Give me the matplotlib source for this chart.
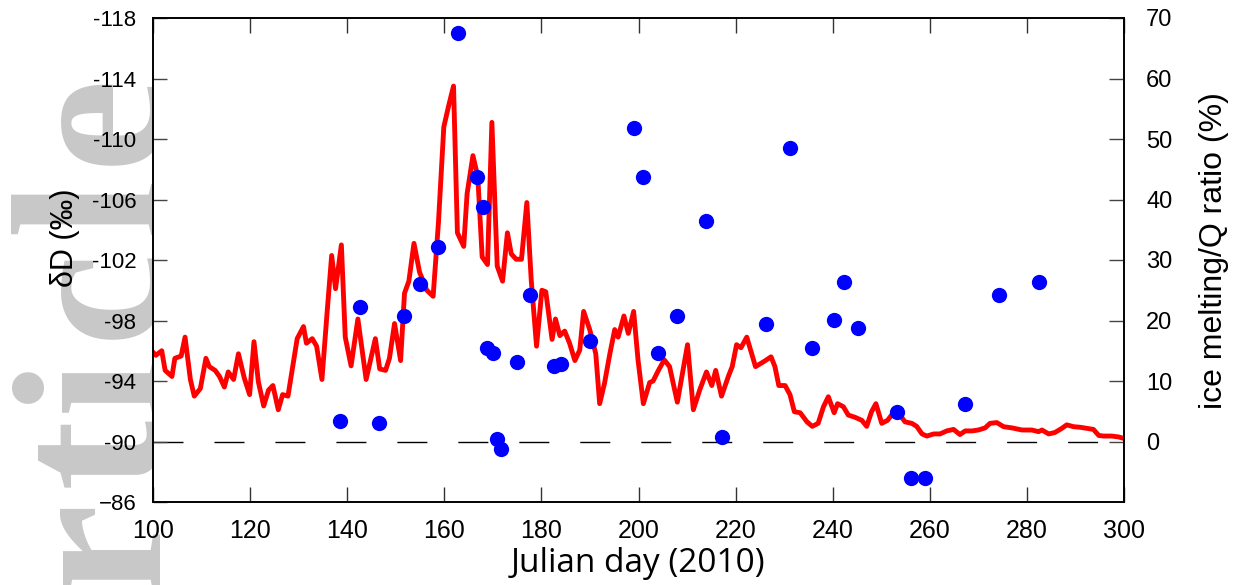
import matplotlib
matplotlib.use("Agg")
import matplotlib.pyplot as plt

# ---- data ----
days = [100.0, 100.6, 101.8, 102.5, 103.9, 104.5, 105.8, 106.6, 107.7, 108.5,
        109.75, 110.9, 111.6, 112.8, 113.7, 114.7, 115.5, 116.6, 117.6, 118.8,
        119.9, 120.8, 121.7, 122.8, 123.8, 124.7, 125.8, 126.7, 127.8, 129.7,
        131.0, 131.6, 132.8, 133.7, 134.8, 135.9, 136.8, 137.6, 138.8, 139.6,
        140.8, 142.2, 143.9, 145.8, 146.7, 147.9, 148.7, 149.75, 151.0, 151.8,
        152.7, 153.75, 154.9, 156.4, 157.7, 158.8, 159.9, 160.9, 161.9, 162.7,
        164.0, 164.7, 165.9, 166.9, 167.8, 168.9, 169.8, 170.9, 172.0, 173.0,
        173.8, 174.8, 175.9, 177.0, 177.9, 179.0, 180.1, 180.9, 182.2, 182.9,
        183.8, 184.8, 185.8, 186.9, 187.9, 188.7, 189.95, 191.2, 192.0, 193.0,
        194.1, 195.1, 195.8, 197.0, 197.9, 199.0, 199.9, 201.0, 202.3, 203.0,
        204.1, 205.3, 206.4, 208.0, 210.1, 211.3, 212.6, 214.0, 215.1, 215.9,
        217.1, 218.5, 219.3, 220.2, 221.1, 222.3, 224.1, 225.9, 227.3, 228.1,
        228.9, 230.2, 231.2, 232.1, 233.3, 234.7, 235.8, 237.0, 238.1, 239.1,
        240.3, 241.0, 242.2, 243.2, 244.6, 246.0, 247.0, 248.0, 248.9, 250.1,
        251.3, 252.5, 253.5, 254.9, 256.3, 257.3, 258.4, 259.4, 260.8, 262.1,
        263.5, 264.9, 266.2, 267.3, 268.7, 270.0, 271.4, 272.4, 273.8, 275.2,
        276.9, 279.0, 281.0, 282.4, 283.1, 284.5, 285.8, 287.2, 288.2, 289.6,
        291.0, 292.4, 293.7, 294.8, 295.8, 297.5, 298.9, 300.0]
dD = [-95.9, -95.7, -96.0, -94.7, -94.3, -95.5, -95.65, -96.9, -94.1, -93.0,
      -93.5, -95.5, -94.95, -94.7, -94.3, -93.6, -94.6, -94.1, -95.8, -94.2,
      -93.1, -96.6, -93.95, -92.35, -93.4, -93.7, -92.1, -93.1, -93.0, -96.8,
      -97.6, -96.5, -96.8, -96.3, -94.1, -98.7, -102.3, -100.1, -103.0, -96.9,
      -95.0, -98.1, -94.1, -96.8, -94.8, -94.7, -95.5, -97.8, -95.35, -99.8,
      -100.6, -103.1, -101.2, -100.0, -99.6, -104.5, -110.8, -112.2, -113.5, -103.8,
      -102.9, -106.4, -108.9, -107.5, -102.2, -101.7, -111.1, -101.6, -100.6, -103.8,
      -102.4, -102.05, -102.05, -105.8, -100.7, -96.3, -100.0, -99.9, -96.75, -98.1,
      -97.0, -97.3, -96.5, -95.35, -96.05, -98.6, -97.4, -95.8, -92.5, -93.85,
      -95.8, -97.4, -96.9, -98.3, -97.15, -98.6, -95.4, -92.5, -93.9, -94.0,
      -94.7, -95.4, -94.95, -92.6, -96.4, -92.1, -93.4, -94.6, -93.7, -94.7,
      -93.0, -94.3, -94.95, -96.4, -96.2, -96.9, -94.95, -95.3, -95.6, -94.95,
      -93.7, -93.7, -93.1, -91.97, -91.9, -91.3, -91.0, -91.2, -92.3, -92.96,
      -91.9, -92.5, -92.3, -91.75, -91.6, -91.4, -91.0, -91.97, -92.5, -91.2,
      -91.4, -91.9, -91.9, -91.3, -91.2, -91.0, -90.5, -90.36, -90.5, -90.5,
      -90.7, -90.8, -90.46, -90.7, -90.7, -90.76, -90.9, -91.2, -91.25, -90.98,
      -90.9, -90.76, -90.76, -90.65, -90.76, -90.5, -90.6, -90.87, -91.1, -90.98,
      -90.94, -90.87, -90.8, -90.4, -90.36, -90.36, -90.3, -90.2]

ratio_days = [138.6, 142.7, 146.6, 151.7, 154.9, 158.8, 162.8, 166.7, 168.0, 168.7,
              170.1, 170.9, 171.7, 175.0, 177.7, 182.6, 184.1, 190.0, 199.0, 200.9,
              204.1, 208.0, 213.9, 217.1, 226.2, 231.3, 235.7, 240.3, 242.4, 245.2,
              253.3, 256.1, 259.1, 267.2, 274.2, 282.4]
ratio_pct = [3.4, 22.3, 3.1, 20.7, 26.1, 32.1, 67.5, 43.8, 38.7, 15.4,
             14.7, 0.4, -1.2, 13.2, 24.2, 12.5, 12.8, 16.6, 51.9, 43.8,
             14.7, 20.7, 36.5, 0.8, 19.4, 48.5, 15.4, 20.1, 26.4, 18.8,
             4.9, -6.1, -6.1, 6.2, 24.2, 26.4]

x_ticks = [100, 120, 140, 160, 180, 200, 220, 240, 260, 280, 300]
left_ticks = [-118, -114, -110, -106, -102, -98, -94, -90, -86]
left_ticklabels = ['-118', '-114', '-110', '-106', '-102', '-98', '-94', '-90', '\u221286']
right_ticks = [0, 10, 20, 30, 40, 50, 60, 70]

# watermark word (letters of "Article", placed with wide tracking)
watermark_letters = ['A', 'r', 't', 'i', 'c', 'l', 'e']
watermark_centers_px = [672, 545, 452, 384, 292, 205, 118]   # pixel rows from top

# ---- figure ----
W, H = 1236, 585
fig = plt.figure(figsize=(W / 100, H / 100), dpi=100)
fig.patch.set_facecolor('white')

for ch, yc in zip(watermark_letters, watermark_centers_px):
    fig.text(155 / W, 1 - yc / H, ch, rotation=90, rotation_mode='anchor',
             ha='center', va='baseline', fontsize=152, family='Liberation Serif',
             weight='bold', color='#c8c8c8', zorder=-1)

ax1 = fig.add_axes([153 / W, (H - 502) / H, (1124 - 153) / W, (502 - 18) / H])
ax1.set_facecolor('white')
ax2 = ax1.twinx()

ax1.axhline(-90, color='black', lw=1.0, dashes=(21.6, 22.3), zorder=1)
ax1.plot(days, dD, color='#ff0000', lw=3.5, zorder=2, solid_joinstyle='round')
ax2.plot(ratio_days, ratio_pct, 'o', color='#0000ff', markersize=11, markeredgewidth=0)

ax1.set_xlim(100, 300)
ax1.set_ylim(-86, -118)
ax2.set_ylim(-10, 70)

ax1.set_xticks(x_ticks)
ax1.set_xticklabels([str(t) for t in x_ticks], family=['Liberation Sans Narrow', 'Liberation Sans'], fontsize=18)
ax1.set_yticks(left_ticks)
ax1.set_yticklabels(left_ticklabels, family='Liberation Sans', fontsize=16)
ax2.set_yticks(right_ticks)
ax2.set_yticklabels([str(t) for t in right_ticks], family='Liberation Sans', fontsize=17)

ax1.tick_params(axis='x', direction='in', length=11, width=1, color='#333333',
                top=True, pad=12)
ax1.tick_params(axis='y', direction='in', length=10, width=1, color='#444444',
                right=False, pad=12)
ax2.tick_params(axis='y', direction='in', length=11, width=1, color='#444444', pad=16)

for ax in (ax1, ax2):
    for s in ax.spines.values():
        s.set_linewidth(1.2)
        s.set_color('black')

ax1.set_xlabel('Julian day (2010)', family='Open Sans', fontsize=24)
ax1.xaxis.set_label_coords(0.5, -0.092)
ax1.set_ylabel('\u03b4D (\u2030)', family='Liberation Sans', fontsize=22)
ax1.yaxis.set_label_coords(-0.075, 0.545)
ax2.set_ylabel('ice melting/Q ratio (%)', family='Liberation Sans', fontsize=23)
ax2.yaxis.set_label_coords(1.077, 0.52)

fig.savefig('out.png', dpi=100)
